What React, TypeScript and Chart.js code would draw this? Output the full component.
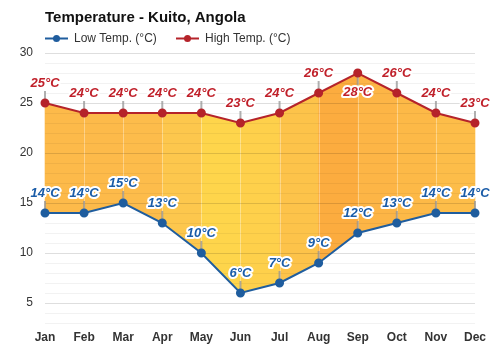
import { useEffect, useRef } from 'react';
import { Chart, registerables } from 'chart.js';
Chart.register(...registerables);

const titleText = 'Temperature - Kuito, Angola';
const months = ['Jan', 'Feb', 'Mar', 'Apr', 'May', 'Jun', 'Jul', 'Aug', 'Sep', 'Oct', 'Nov', 'Dec'];
const lowTemps = [14, 14, 15, 13, 10, 6, 7, 9, 12, 13, 14, 14];
const highTemps = [25, 24, 24, 24, 24, 23, 24, 26, 28, 26, 24, 23];
const lowLabel = 'Low Temp. (°C)';
const highLabel = 'High Temp. (°C)';
const yMin = 3;
const yMax = 30;
// colour of the fill between each pair of consecutive months
const bandColors = [
  '#fdba4a', '#fdba4a', '#fdbc4b', '#fdc74d', '#fed54b', '#fed04b',
  '#fdc34a', '#fcac3f', '#fdb546', '#fdb947', '#fdbd49',
];

const LOW_COLOR = '#1f5d9e';
const HIGH_COLOR = '#b5232a';
const LOW_TEXT = '#1a5ca8';
const HIGH_TEXT = '#c0202a';
const FONT = '"Liberation Sans", Arial, sans-serif';

export default function App() {
  const ref = useRef<HTMLCanvasElement>(null);

  useEffect(() => {
    document.body.style.margin = '0';
    const canvas = ref.current!;

    const labelAbove = (chart: any, py: number) => py - 27 > chart.chartArea.top;

    const bandFill = {
      id: 'bandFill',
      beforeDraw(chart: any) {
        const { ctx, scales } = chart;
        const x = scales.x, y = scales.y;
        ctx.save();
        for (let i = 0; i < months.length - 1; i++) {
          const x0 = x.getPixelForValue(i);
          const x1 = x.getPixelForValue(i + 1);
          ctx.beginPath();
          ctx.moveTo(x0 - 0.3, y.getPixelForValue(highTemps[i]));
          ctx.lineTo(x1 + 0.3, y.getPixelForValue(highTemps[i + 1]));
          ctx.lineTo(x1 + 0.3, y.getPixelForValue(lowTemps[i + 1]));
          ctx.lineTo(x0 - 0.3, y.getPixelForValue(lowTemps[i]));
          ctx.closePath();
          ctx.fillStyle = bandColors[i];
          ctx.fill();
        }
        ctx.strokeStyle = 'rgba(255,255,255,0.35)';
        ctx.lineWidth = 1;
        for (let i = 1; i < months.length - 1; i++) {
          const px = Math.round(x.getPixelForValue(i)) + 0.5;
          ctx.beginPath();
          ctx.moveTo(px, y.getPixelForValue(highTemps[i]));
          ctx.lineTo(px, y.getPixelForValue(lowTemps[i]));
          ctx.stroke();
        }
        ctx.restore();
      },
    };

    const connectors = {
      id: 'connectors',
      beforeDatasetsDraw(chart: any) {
        const ctx = chart.ctx;
        ctx.save();
        ctx.strokeStyle = 'rgba(150,150,150,0.75)';
        ctx.lineWidth = 2;
        [0, 1].forEach((di) => {
          chart.getDatasetMeta(di).data.forEach((el: any) => {
            const up = labelAbove(chart, el.y);
            ctx.beginPath();
            ctx.moveTo(el.x, el.y);
            ctx.lineTo(el.x, up ? el.y - 12 : el.y + 12);
            ctx.stroke();
          });
        });
        ctx.restore();
      },
    };

    const dataLabels = {
      id: 'dataLabels',
      afterDatasetsDraw(chart: any) {
        const ctx = chart.ctx;
        ctx.save();
        ctx.font = `italic bold 13px ${FONT}`;
        ctx.textAlign = 'center';
        ctx.textBaseline = 'middle';
        ctx.lineJoin = 'round';
        ctx.lineWidth = 4;
        ctx.strokeStyle = '#ffffff';
        const sets = [
          { di: 0, vals: lowTemps, color: LOW_TEXT },
          { di: 1, vals: highTemps, color: HIGH_TEXT },
        ];
        sets.forEach(({ di, vals, color }) => {
          chart.getDatasetMeta(di).data.forEach((el: any, i: number) => {
            const up = labelAbove(chart, el.y);
            const ty = up ? el.y - 19.5 : el.y + 19;
            const txt = `${vals[i]}°C`;
            ctx.strokeText(txt, el.x, ty);
            ctx.fillStyle = color;
            ctx.fillText(txt, el.x, ty);
          });
        });
        ctx.restore();
      },
    };

    const header = {
      id: 'header',
      afterDraw(chart: any) {
        const ctx = chart.ctx;
        ctx.save();
        ctx.textAlign = 'left';
        ctx.textBaseline = 'alphabetic';
        ctx.font = `bold 15px ${FONT}`;
        ctx.fillStyle = '#111111';
        ctx.fillText(titleText, 45, 21.5);

        const items = [
          { label: lowLabel, color: LOW_COLOR, x: 45 },
          { label: highLabel, color: HIGH_COLOR, x: 176 },
        ];
        ctx.font = `12px ${FONT}`;
        items.forEach((it) => {
          const cy = 38.5;
          ctx.strokeStyle = it.color;
          ctx.lineWidth = 2;
          ctx.beginPath();
          ctx.moveTo(it.x, cy);
          ctx.lineTo(it.x + 23, cy);
          ctx.stroke();
          ctx.fillStyle = it.color;
          ctx.beginPath();
          ctx.arc(it.x + 11.5, cy, 3.5, 0, Math.PI * 2);
          ctx.fill();
          ctx.fillStyle = '#333333';
          ctx.textBaseline = 'middle';
          ctx.fillText(it.label, it.x + 29, cy + 0.5);
        });
        ctx.restore();
      },
    };

    const chart = new Chart(canvas, {
      type: 'line',
      data: {
        labels: months,
        datasets: [
          {
            label: lowLabel,
            data: lowTemps,
            borderColor: LOW_COLOR,
            backgroundColor: LOW_COLOR,
            borderWidth: 2,
            pointRadius: 3.5,
            pointBackgroundColor: LOW_COLOR,
            pointBorderColor: LOW_COLOR,
            fill: false,
            tension: 0,
          },
          {
            label: highLabel,
            data: highTemps,
            borderColor: HIGH_COLOR,
            backgroundColor: HIGH_COLOR,
            borderWidth: 2,
            pointRadius: 3.5,
            pointBackgroundColor: HIGH_COLOR,
            pointBorderColor: HIGH_COLOR,
            fill: false,
            tension: 0,
          },
        ],
      },
      options: {
        animation: false,
        responsive: false,
        maintainAspectRatio: false,
        layout: { padding: { top: 53, right: 25, left: 0, bottom: 0 } },
        plugins: {
          legend: { display: false },
          title: { display: false },
          tooltip: { enabled: false },
        },
        scales: {
          x: {
            type: 'category',
            offset: false,
            grid: { display: false, drawTicks: false },
            border: { display: false },
            ticks: {
              color: '#333333',
              font: { family: FONT, size: 12, weight: 'bold' },
              padding: 7,
              maxRotation: 0,
            },
            afterFit: (s: any) => { s.height = 27; },
          },
          y: {
            min: yMin,
            max: yMax,
            grid: {
              drawTicks: false,
              color: (c: any) => (c.tick && c.tick.value % 5 === 0 ? 'rgba(0,0,0,0.13)' : 'rgba(0,0,0,0.05)'),
              lineWidth: 1,
            },
            border: { display: false },
            ticks: {
              stepSize: 1,
              autoSkip: false,
              color: '#333333',
              font: { family: FONT, size: 12 },
              padding: 12,
              callback: (v: any) => (Number(v) % 5 === 0 ? String(v) : ''),
            },
            afterFit: (s: any) => { s.width = 45; },
          },
        },
      },
      plugins: [bandFill, connectors, dataLabels, header],
    });

    return () => chart.destroy();
  }, []);

  return (
    <div style={{ width: 500, height: 350 }}>
      <canvas ref={ref} width={500} height={350} style={{ display: 'block' }} />
    </div>
  );
}
